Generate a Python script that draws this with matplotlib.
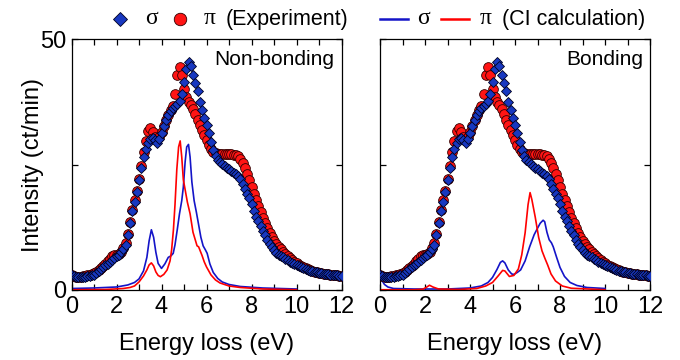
import numpy as np
import matplotlib
matplotlib.use("Agg")
import matplotlib.pyplot as plt
from matplotlib.lines import Line2D
from matplotlib.ticker import MultipleLocator

plt.rcParams['font.family'] = ['Liberation Sans', 'DejaVu Sans']

# experimental spectra (same in both panels), 0-12 eV every 0.1 eV
energy = np.round(np.arange(0, 12.01, 0.1), 1)
sigma_exp = [2.9, 2.7, 2.5, 2.5, 2.5, 2.6, 2.6, 2.7, 2.8, 2.9,
             3.0, 3.3, 3.7, 4.1, 4.5, 4.9, 5.2, 5.6, 6.0, 6.4,
             6.7, 7.0, 7.5, 8.1, 9.0, 10.9, 13.3, 15.7, 17.6, 19.5,
             21.9, 24.3, 26.5, 28.1, 29.3, 30.0, 30.3, 29.8, 29.3, 30.0,
             31.2, 32.6, 33.8, 34.8, 35.6, 36.2, 36.7, 37.1, 37.7, 39.0,
             41.4, 44.0, 45.4, 44.6, 42.8, 41.3, 39.6, 37.5, 35.8, 34.3,
             32.8, 31.2, 29.5, 27.9, 26.7, 25.8, 25.4, 25.1, 24.8, 24.4,
             24.1, 23.7, 23.4, 23.1, 22.7, 22.1, 21.2, 20.2, 19.1, 18.3,
             17.1, 15.8, 14.6, 13.7, 12.7, 11.7, 10.9, 10.0, 9.1, 8.6,
             7.9, 7.4, 7.0, 6.8, 6.5, 6.2, 5.9, 5.6, 5.3, 5.1,
             5.0, 4.8, 4.6, 4.4, 4.2, 4.0, 3.85, 3.7, 3.6, 3.5,
             3.4, 3.3, 3.2, 3.15, 3.1, 3.05, 3.0, 2.95, 2.9, 2.85,
             2.85]
pi_exp = [3.0, 2.8, 2.6, 2.6, 2.6, 2.7, 2.8, 2.9, 3.0, 3.1,
          3.3, 3.6, 3.9, 4.3, 4.8, 5.2, 5.7, 6.2, 6.7, 6.9,
          7.0, 7.2, 7.6, 8.3, 9.3, 11.2, 13.6, 16.0, 17.9, 19.8,
          22.2, 24.8, 27.4, 29.7, 31.6, 32.2, 31.4, 30.5, 30.1, 30.5,
          31.4, 32.7, 33.9, 34.9, 35.8, 36.7, 39.0, 42.8, 44.5, 42.8,
          40.0, 38.4, 37.4, 36.9, 36.0, 35.0, 33.9, 32.9, 31.9, 30.8,
          29.8, 28.8, 28.1, 27.5, 27.2, 27.1, 27.1, 27.1, 27.0, 27.0,
          27.0, 27.0, 26.9, 26.8, 26.6, 26.1, 25.3, 24.3, 23.1, 21.9,
          20.6, 19.2, 18.0, 16.8, 15.5, 14.4, 13.3, 12.3, 11.3, 10.5,
          9.8, 9.1, 8.6, 8.1, 7.6, 7.1, 6.7, 6.3, 6.0, 5.6,
          5.3, 5.0, 4.8, 4.6, 4.35, 4.15, 4.0, 3.8, 3.65, 3.55,
          3.45, 3.35, 3.25, 3.2, 3.15, 3.05, 3.0, 2.95, 2.9, 2.85,
          2.85]

# CI calculation, non-bonding
nb_sigma_x = [0, 1.0, 2.0, 2.5, 2.8, 3.0, 3.2, 3.35, 3.45, 3.55, 3.65, 3.75, 3.85, 4.0,
              4.15, 4.3, 4.42, 4.52, 4.6, 4.7, 4.8, 4.9, 4.97, 5.05, 5.12, 5.2, 5.27,
              5.35, 5.45, 5.55, 5.65, 5.75, 5.85, 5.95, 6.03, 6.15, 6.3, 6.5, 6.7,
              7.0, 7.5, 8.5, 10.0]
nb_sigma_y = [0.3, 0.4, 0.6, 1.0, 1.5, 2.2, 3.8, 6.5, 9.8, 12.0, 10.5, 7.5, 5.3, 4.3,
              5.2, 6.5, 6.8, 7.3, 9.0, 12.0, 15.2, 17.8, 20.5, 25.5, 28.5, 29.0, 26.5,
              21.5, 17.8, 15.5, 13.0, 10.5, 8.8, 8.0, 7.3, 5.2, 3.5, 2.3, 1.6,
              1.1, 0.7, 0.4, 0.2]
nb_pi_x = [0, 1.5, 2.3, 2.6, 2.8, 3.0, 3.2, 3.35, 3.45, 3.55, 3.65, 3.75, 3.85, 3.95,
           4.1, 4.25, 4.38, 4.45, 4.53, 4.6, 4.68, 4.76, 4.83, 4.9, 4.97, 5.05, 5.15,
           5.27, 5.4, 5.5, 5.58, 5.65, 5.72, 5.8, 5.9, 6.0, 6.2, 6.4, 6.6, 7.0, 7.5,
           8.5, 10.0]
nb_pi_y = [0.05, 0.1, 0.3, 0.5, 0.8, 1.6, 2.8, 4.0, 5.0, 5.4, 4.8, 3.6, 2.9, 2.65,
           3.1, 4.0, 5.8, 8.0, 12.0, 17.0, 24.0, 28.5, 29.7, 26.5, 22.0, 20.0, 17.5,
           15.2, 11.5, 10.0, 8.8, 8.6, 7.8, 6.9, 5.6, 4.6, 3.0, 2.0, 1.4, 0.8, 0.5,
           0.2, 0.05]

# CI calculation, bonding
b_sigma_x = [0, 0.1, 0.2, 0.35, 0.6, 1.5, 3.0, 4.0, 4.5, 4.8, 5.0, 5.2, 5.35, 5.45,
             5.55, 5.7, 5.85, 5.95, 6.1, 6.25, 6.45, 6.65, 6.85, 7.0, 7.12, 7.25,
             7.32, 7.42, 7.52, 7.62, 7.7, 7.85, 8.0, 8.2, 8.45, 8.75, 9.2, 10.0]
b_sigma_y = [2.6, 1.8, 1.1, 0.6, 0.3, 0.2, 0.2, 0.4, 0.8, 1.5, 2.5, 4.1, 5.5, 5.8,
             5.4, 4.0, 3.2, 3.1, 3.5, 4.0, 5.8, 8.6, 11.0, 12.3, 13.3, 13.9,
             13.6, 11.5, 10.0, 9.4, 8.6, 6.5, 4.5, 2.7, 1.5, 0.9, 0.5, 0.3]
b_pi_x = [0, 1.5, 1.9, 2.05, 2.2, 2.35, 2.6, 3.5, 4.3, 4.7, 5.0, 5.25, 5.45, 5.55,
          5.75, 5.95, 6.15, 6.3, 6.45, 6.58, 6.67, 6.75, 6.9, 7.05, 7.2, 7.33,
          7.45, 7.6, 7.8, 8.1, 8.5, 10.0]
b_pi_y = [0.05, 0.05, 0.15, 0.5, 0.95, 0.6, 0.2, 0.1, 0.3, 0.8, 1.5, 2.8, 3.9, 3.8,
          2.7, 2.9, 4.2, 7.0, 11.4, 17.0, 19.4, 18.0, 14.5, 10.5, 7.8, 6.3,
          5.0, 3.2, 1.8, 0.8, 0.35, 0.05]

panels = [("Non-bonding", nb_sigma_x, nb_sigma_y, nb_pi_x, nb_pi_y),
          ("Bonding", b_sigma_x, b_sigma_y, b_pi_x, b_pi_y)]

blue_face = '#1838c0'
red_face = '#ff1414'
line_blue = '#1414c8'
line_red = '#ff0000'

fig = plt.figure(figsize=(6.8, 3.6), dpi=100)
lefts = [71.5 / 680, 380 / 680]

for i, (name, sx, sy, px, py) in enumerate(panels):
    ax = fig.add_axes([lefts[i], 70 / 360, 270 / 680, 251 / 360])
    ax.plot(sx, sy, color=line_blue, lw=1.2, zorder=2)
    ax.plot(px, py, color=line_red, lw=1.2, zorder=2)
    ax.plot(energy, pi_exp, 'o', ms=7.0, mfc=red_face, mec='#300000', mew=0.6, zorder=3)
    ax.plot(energy, sigma_exp, 'D', ms=5.6, mfc=blue_face, mec='#000020', mew=0.6, zorder=4)
    ax.set_xlim(0, 12)
    ax.set_ylim(0, 50)
    ax.xaxis.set_major_locator(MultipleLocator(2))
    ax.xaxis.set_minor_locator(MultipleLocator(1))
    ax.set_yticks([0, 25, 50])
    ax.tick_params(which='both', direction='in', top=True, right=True,
                   length=4.5, width=0.9, labelsize=17, pad=4)
    for s in ax.spines.values():
        s.set_linewidth(0.9)
    if i == 0:
        ax.set_yticklabels(['0', '', '50'])
        ax.set_ylabel('Intensity (ct/min)', fontsize=17, labelpad=-3)
    else:
        ax.set_yticklabels([])
    ax.set_xlabel('Energy loss (eV)', fontsize=17, labelpad=11)
    ax.text(0.975, 0.955, name, transform=ax.transAxes, ha='right', va='top', fontsize=15)

# key above the panels
def fx(px):
    return px / 680

ky = 1 - 19 / 360
greek = ['Liberation Serif', 'DejaVu Serif']
fig.add_artist(Line2D([fx(120)], [ky], marker='D', ms=7.0, mfc=blue_face, mec='#000020',
                      mew=0.6, transform=fig.transFigure))
fig.text(fx(151), ky, 'σ', family=greek, fontsize=17, ha='center', va='center')
fig.add_artist(Line2D([fx(180)], [ky], marker='o', ms=9.0, mfc=red_face, mec='#300000',
                      mew=0.6, transform=fig.transFigure))
fig.text(fx(210), ky, 'π', family=greek, fontsize=17, ha='center', va='center')
fig.text(fx(226), ky, '(Experiment)', fontsize=15.5, ha='left', va='center')

fig.add_artist(Line2D([fx(380), fx(408)], [ky, ky], color=line_blue, lw=1.8,
                      transform=fig.transFigure))
fig.text(fx(424), ky, 'σ', family=greek, fontsize=17, ha='center', va='center')
fig.add_artist(Line2D([fx(441), fx(469)], [ky, ky], color=line_red, lw=1.8,
                      transform=fig.transFigure))
fig.text(fx(486), ky, 'π', family=greek, fontsize=17, ha='center', va='center')
fig.text(fx(502), ky, '(CI calculation)', fontsize=15.5, ha='left', va='center')

fig.savefig('out.png', dpi=100)
